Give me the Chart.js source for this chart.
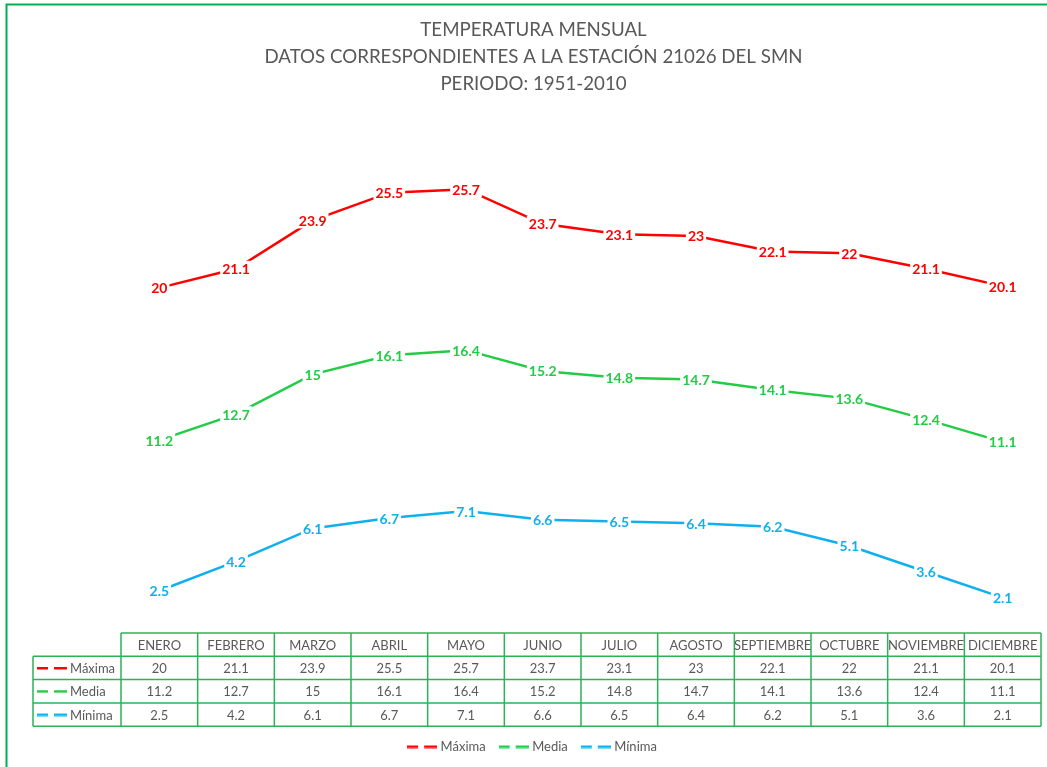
<!DOCTYPE html>
<html>
<head>
<meta charset="utf-8">
<script src="https://cdn.jsdelivr.net/npm/chart.js@4.4.1/dist/chart.umd.min.js"></script>
<style>
  html, body { margin: 0; padding: 0; background: #fff; }
  canvas { display: block; }
</style>
</head>
<body>
<canvas id="chart1" width="1047" height="767"></canvas>
<script>
// data
const months = ['ENERO', 'FEBRERO', 'MARZO', 'ABRIL', 'MAYO', 'JUNIO', 'JULIO', 'AGOSTO', 'SEPTIEMBRE', 'OCTUBRE', 'NOVIEMBRE', 'DICIEMBRE'];
const maxima = [20, 21.1, 23.9, 25.5, 25.7, 23.7, 23.1, 23, 22.1, 22, 21.1, 20.1];
const media = [11.2, 12.7, 15, 16.1, 16.4, 15.2, 14.8, 14.7, 14.1, 13.6, 12.4, 11.1];
const minima = [2.5, 4.2, 6.1, 6.7, 7.1, 6.6, 6.5, 6.4, 6.2, 5.1, 3.6, 2.1];
const seriesNames = ['Máxima', 'Media', 'Mínima'];
const titleLines = ['TEMPERATURA MENSUAL', 'DATOS CORRESPONDIENTES A LA ESTACIÓN 21026 DEL SMN', 'PERIODO: 1951-2010'];
const yMin = 0, yMax = 30;

const RED = '#FF0000', GREEN = '#22CC46', BLUE = '#10B0EE';
const GRID = '#2DB357', TXT = '#595959';
const FONT = 'Lato, "Open Sans", sans-serif';

// dashed "— —" key used in legend and table
function makeKey(color) {
  const c = document.createElement('canvas');
  c.width = 30; c.height = 4;
  const g = c.getContext('2d');
  g.fillStyle = color;
  g.fillRect(0, 1, 11, 2.5);
  g.fillRect(17, 1, 13, 2.5);
  return c;
}
const keys = [makeKey(RED), makeKey(GREEN), makeKey(BLUE)];

const pointLabels = {
  id: 'pointLabels',
  afterDatasetsDraw(chart) {
    const ctx = chart.ctx;
    ctx.save();
    ctx.font = 'bold 14px ' + FONT;
    ctx.textAlign = 'center';
    ctx.textBaseline = 'middle';
    chart.data.datasets.forEach((ds, di) => {
      const meta = chart.getDatasetMeta(di);
      meta.data.forEach((pt, i) => {
        const s = String(ds.data[i]);
        const w = ctx.measureText(s).width;
        ctx.fillStyle = '#fff';
        ctx.fillRect(pt.x - w / 2 - 2, pt.y - 8, w + 4, 16);
        ctx.fillStyle = ds.borderColor;
        ctx.fillText(s, pt.x, pt.y + 1);
      });
    });
    ctx.restore();
  }
};

const dataTable = {
  id: 'dataTable',
  afterDraw(chart) {
    const ctx = chart.ctx;
    const xs = chart.scales.x;
    const colW = xs.getPixelForValue(1) - xs.getPixelForValue(0);
    const left = xs.getPixelForValue(0) - colW / 2;
    const right = left + colW * months.length;
    const labLeft = 33;
    const top = chart.chartArea.bottom - 1;
    const rowH = 23.3;
    const rows = [maxima, media, minima];

    ctx.save();
    ctx.strokeStyle = GRID;
    ctx.lineWidth = 1.5;
    ctx.beginPath();
    // horizontal lines
    ctx.moveTo(left, top); ctx.lineTo(right, top);
    for (let r = 1; r <= 4; r++) {
      ctx.moveTo(labLeft, top + r * rowH); ctx.lineTo(right, top + r * rowH);
    }
    // vertical lines
    ctx.moveTo(labLeft, top + rowH); ctx.lineTo(labLeft, top + 4 * rowH);
    for (let c = 0; c <= months.length; c++) {
      ctx.moveTo(left + c * colW, top); ctx.lineTo(left + c * colW, top + 4 * rowH);
    }
    ctx.stroke();

    ctx.font = '13px ' + FONT;
    ctx.fillStyle = TXT;
    ctx.textAlign = 'center';
    ctx.textBaseline = 'middle';
    months.forEach((m, i) => ctx.fillText(m, left + (i + 0.5) * colW, top + rowH / 2 + 1));
    rows.forEach((vals, r) => {
      const cy = top + (r + 1.5) * rowH + 1;
      vals.forEach((v, i) => ctx.fillText(String(v), left + (i + 0.5) * colW, cy));
    });
    ctx.textAlign = 'left';
    seriesNames.forEach((n, r) => {
      const cy = top + (r + 1.5) * rowH;
      ctx.drawImage(keys[r], 37, cy - 2);
      ctx.fillText(n, 70, cy + 1);
    });

    // outer chart border
    ctx.strokeStyle = '#00B050';
    ctx.lineWidth = 2;
    ctx.beginPath();
    ctx.moveTo(6.5, 767); ctx.lineTo(6.5, 4.5); ctx.lineTo(1047, 4.5);
    ctx.stroke();
    ctx.restore();
  }
};

const ctx1 = document.getElementById('chart1').getContext('2d');

new Chart(ctx1, {
  type: 'line',
  data: {
    labels: months,
    datasets: [
      { label: seriesNames[0], data: maxima, borderColor: RED, backgroundColor: RED, borderWidth: 2.5, pointRadius: 0, pointStyle: keys[0], yAxisID: 'y' },
      { label: seriesNames[1], data: media, borderColor: GREEN, backgroundColor: GREEN, borderWidth: 2.5, pointRadius: 0, pointStyle: keys[1], yAxisID: 'y' },
      { label: seriesNames[2], data: minima, borderColor: BLUE, backgroundColor: BLUE, borderWidth: 2.5, pointRadius: 0, pointStyle: keys[2], yAxisID: 'y' }
    ]
  },
  options: {
    responsive: false,
    animation: false,
    layout: { padding: { left: 20, right: 0, top: 0, bottom: 4 } },
    plugins: {
      title: {
        display: true,
        text: titleLines,
        color: TXT,
        font: { family: FONT, size: 18.7, weight: 'normal', lineHeight: 1.44 },
        padding: { top: 17, bottom: 17 }
      },
      legend: {
        position: 'bottom',
        labels: {
          usePointStyle: true,
          pointStyleWidth: 24,
          padding: 16,
          color: TXT,
          font: { family: FONT, size: 13 }
        }
      },
      tooltip: { enabled: false }
    },
    scales: {
      x: {
        offset: true,
        grid: { display: false },
        border: { display: false },
        ticks: { display: false },
        afterFit: s => { s.height = 90; }
      },
      y: {
        min: yMin,
        max: yMax,
        grid: { display: false },
        border: { display: false },
        ticks: { display: false },
        afterFit: s => { s.width = 101; }
      },
      y2: {
        position: 'right',
        display: true,
        min: yMin,
        max: yMax,
        grid: { display: false },
        border: { display: false },
        ticks: { display: false },
        afterFit: s => { s.width = 6; }
      }
    }
  },
  plugins: [pointLabels, dataTable]
});
</script>
</body>
</html>
